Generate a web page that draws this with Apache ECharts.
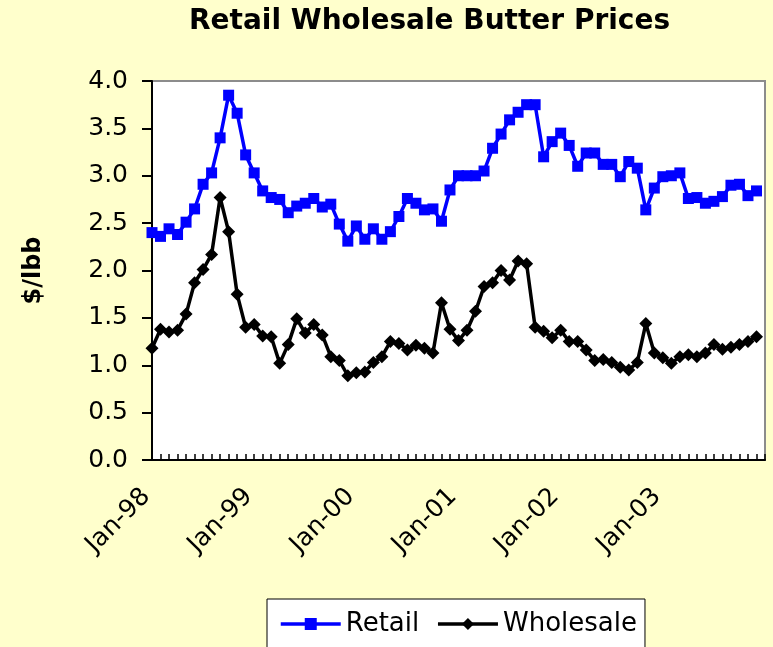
<!DOCTYPE html>
<html>
<head>
<meta charset="utf-8">
<title>Retail Wholesale Butter Prices</title>
<script src="https://cdn.jsdelivr.net/npm/echarts@6/dist/echarts.min.js"></script>
<style>
  html, body { margin: 0; padding: 0; background: #ffffcc; }
  #chart { width: 773px; height: 647px; }
</style>
</head>
<body>
<div id="chart"></div>
<script>
// months Jan-98 .. Jan-04 (last slot is empty, axis runs to it)
const years = ['98', '99', '00', '01', '02', '03', '04']
const monthNames = ['Jan', 'Feb', 'Mar', 'Apr', 'May', 'Jun', 'Jul', 'Aug', 'Sep', 'Oct', 'Nov', 'Dec']
const categories = []
years.forEach((y, i) => {
  monthNames.forEach(m => {
    if (i < years.length - 1 || m === 'Jan') categories.push(m + '-' + y)
  })
})

// $/lb
const retail = [
  2.40, 2.36, 2.44, 2.38, 2.51, 2.65, 2.91, 3.03, 3.40, 3.85, 3.66, 3.22,
  3.03, 2.84, 2.77, 2.75, 2.61, 2.68, 2.71, 2.76, 2.67, 2.70, 2.49, 2.31,
  2.47, 2.33, 2.44, 2.33, 2.41, 2.57, 2.76, 2.71, 2.64, 2.65, 2.52, 2.85,
  3.00, 3.00, 3.00, 3.05, 3.29, 3.44, 3.59, 3.67, 3.75, 3.75, 3.20, 3.36,
  3.45, 3.32, 3.10, 3.24, 3.24, 3.12, 3.12, 2.99, 3.15, 3.08, 2.64, 2.87,
  2.99, 3.00, 3.03, 2.76, 2.77, 2.71, 2.73, 2.78, 2.90, 2.91, 2.79, 2.84
]
const wholesale = [
  1.18, 1.38, 1.35, 1.37, 1.54, 1.87, 2.01, 2.17, 2.77, 2.41, 1.75, 1.40,
  1.43, 1.31, 1.30, 1.02, 1.22, 1.49, 1.34, 1.43, 1.32, 1.09, 1.05, 0.89,
  0.92, 0.93, 1.03, 1.09, 1.25, 1.23, 1.16, 1.21, 1.18, 1.13, 1.66, 1.38,
  1.26, 1.37, 1.57, 1.83, 1.87, 2.00, 1.90, 2.10, 2.07, 1.40, 1.36, 1.29,
  1.37, 1.25, 1.25, 1.16, 1.05, 1.06, 1.03, 0.98, 0.95, 1.03, 1.44, 1.13,
  1.08, 1.02, 1.09, 1.11, 1.09, 1.13, 1.22, 1.17, 1.19, 1.22, 1.25, 1.30
]

const font = 'DejaVu Sans'
const chart = echarts.init(document.getElementById('chart'))

const option = {
  animation: false,
  backgroundColor: '#ffffcc',
  title: {
    text: 'Retail Wholesale Butter Prices',
    left: 189,
    top: 8,
    padding: 0,
    textStyle: { fontFamily: font, fontSize: 28, fontWeight: 'bold', color: '#000' }
  },
  grid: {
    left: 152, right: 8, top: 81, bottom: 187,
    show: true,
    backgroundColor: '#ffffff',
    borderColor: '#8c8c8c',
    borderWidth: 2
  },
  legend: {
    left: 267,
    top: 599,
    padding: [12, 8, 24, 12],
    itemGap: 17,
    itemWidth: 60,
    itemHeight: 15,
    lineStyle: { width: 3.5 },
    backgroundColor: '#ffffff',
    borderColor: '#000',
    borderWidth: 1,
    borderRadius: 0,
    textStyle: { fontFamily: font, fontSize: 26, color: '#000' },
    data: ['Retail', 'Wholesale']
  },
  xAxis: {
    type: 'category',
    data: categories,
    boundaryGap: false,
    axisLine: { lineStyle: { color: '#000', width: 2 } },
    axisTick: { interval: 0, inside: true, length: 6, lineStyle: { color: '#000', width: 1.5 } },
    axisLabel: {
      interval: (i) => i % 12 === 0 && i < 72,
      rotate: 45,
      margin: 27,
      // trailing space keeps the rotated text a little off the tick, like Excel
      formatter: (v) => v + ' ',
      fontFamily: font,
      fontSize: 25,
      color: '#000'
    },
    splitLine: { show: false }
  },
  yAxis: {
    type: 'value',
    min: 0,
    max: 4,
    interval: 0.5,
    name: '$/lbb',
    nameLocation: 'middle',
    nameGap: 106,
    nameTextStyle: { fontFamily: font, fontSize: 24, fontWeight: 'bold', color: '#000' },
    axisLine: { show: true, lineStyle: { color: '#000', width: 2 } },
    axisTick: { show: true, length: 10, lineStyle: { color: '#000', width: 2 } },
    axisLabel: {
      margin: 24,
      fontFamily: font,
      fontSize: 25,
      color: '#000',
      formatter: (v) => v.toFixed(1)
    },
    splitLine: { show: false }
  },
  series: [
    {
      name: 'Retail',
      type: 'line',
      data: retail,
      showAllSymbol: true,
      symbol: 'rect',
      symbolSize: 11,
      lineStyle: { color: '#0000ff', width: 3.5 },
      itemStyle: { color: '#0000ff' }
    },
    {
      name: 'Wholesale',
      type: 'line',
      data: wholesale,
      showAllSymbol: true,
      symbol: 'diamond',
      symbolSize: 13,
      lineStyle: { color: '#000000', width: 3.5 },
      itemStyle: { color: '#000000' }
    }
  ]
}

chart.setOption(option)
</script>
</body>
</html>
